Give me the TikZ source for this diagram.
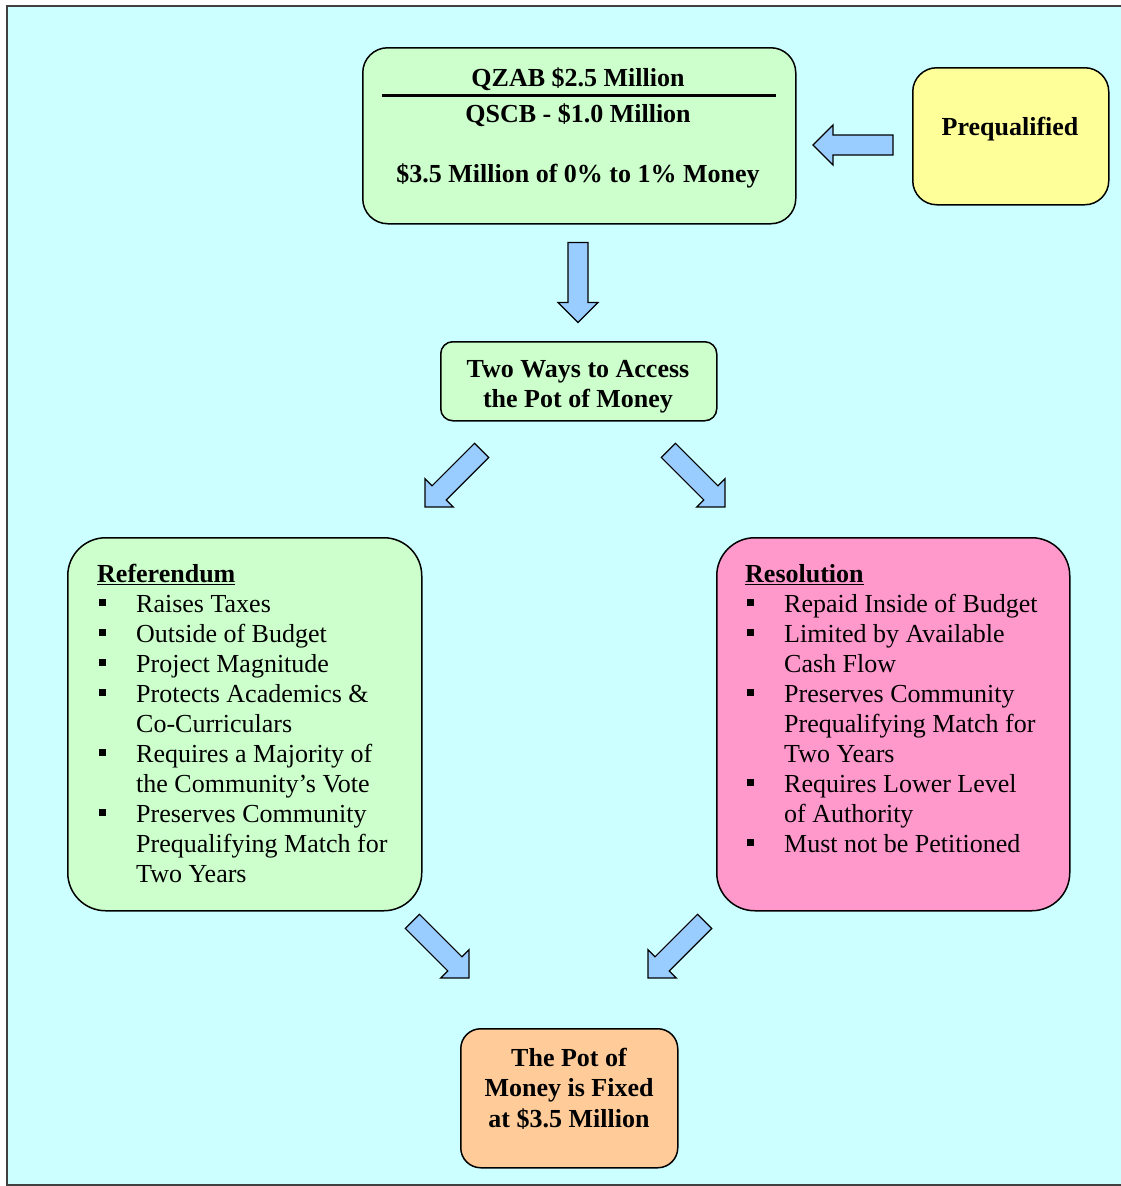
\documentclass[tikz,border=0pt]{standalone}
\usepackage{fontspec}
\setmainfont{Liberation Serif}
\definecolor{bgcyan}{HTML}{CCFFFF}
\definecolor{boxgreen}{HTML}{CCFFCC}
\definecolor{boxyellow}{HTML}{FFFF99}
\definecolor{boxpink}{HTML}{FF99CC}
\definecolor{boxpeach}{HTML}{FFCC99}
\definecolor{arrowblue}{HTML}{99CCFF}
\newcommand{\blockarr}[2]{%
  \draw[blockarrow, shift={(#1)}, rotate=#2]
    (0,-10) -- (60,-10) -- (60,-20) -- (80,0) -- (60,20) -- (60,10) -- (0,10) -- cycle;}
\begin{document}
\begin{tikzpicture}[x=1pt,y=-1pt,
  box/.style={draw=black, line width=1.5pt, inner sep=0pt, anchor=north west},
  txt/.style={inner sep=0pt, font=\fontsize{26}{30}\selectfont},
  btxt/.style={inner sep=0pt, font=\fontsize{26}{30}\selectfont\bfseries},
  bul/.style={fill=black, inner sep=0pt, minimum size=7pt},
  blockarrow/.style={draw=black, line width=1.2pt, fill=arrowblue, line join=miter}]
\useasboundingbox (0,0) rectangle (1120,1186);
\fill[bgcyan] (7,6) rectangle (1140,1185);
\draw[black!75, line width=2pt] (1140,6) -- (7,6) -- (7,1185) -- (1140,1185);

% boxes
\node[box, fill=boxgreen, rounded corners=25pt, minimum width=433pt, minimum height=176pt] (top) at (362,47) {};
\node[box, fill=boxyellow, rounded corners=24pt, minimum width=196pt, minimum height=137pt] (preq) at (912,67) {};
\node[box, fill=boxgreen, rounded corners=12pt, minimum width=276pt, minimum height=79pt] (mid) at (440,341) {};
\node[box, fill=boxgreen, rounded corners=38pt, minimum width=354pt, minimum height=373pt] (ref) at (67,537) {};
\node[box, fill=boxpink, rounded corners=38pt, minimum width=353pt, minimum height=373pt] (res) at (716,537) {};
\node[box, fill=boxpeach, rounded corners=20pt, minimum width=217pt, minimum height=139pt] (pot) at (460,1028) {};

% top box text
\node[btxt, anchor=base] (top-1) at (578,86) {QZAB \$2.5 Million};
\draw[line width=3pt] (382,95) -- (776,95);
\node[btxt, anchor=base] (top-2) at (578,122) {QSCB - \$1.0 Million};
\node[btxt, anchor=base] (top-3) at (578,182) {\$3.5 Million of 0\% to 1\% Money};

\node[btxt, anchor=base] (preq-t) at (1010,135) {Prequalified};

\node[btxt, anchor=base] (mid-1) at (578,377) {Two Ways to Access};
\node[btxt, anchor=base] (mid-2) at (578,407) {the Pot of Money};

\node[btxt, anchor=base] (pot-1) at (569,1066) {The Pot of};
\node[btxt, anchor=base] (pot-2) at (569,1096) {Money is Fixed};
\node[btxt, anchor=base] (pot-3) at (569,1127) {at \$3.5 Million};

% referendum
\node[btxt, anchor=base west] (ref-h) at (97,582) {\underline{Referendum}};
\foreach \b/\t [count=\i] in {1/Raises Taxes, 1/Outside of Budget, 1/Project Magnitude,
  1/Protects Academics \&, 0/Co-Curriculars, 1/Requires a Majority of,
  0/the Community’s Vote, 1/Preserves Community, 0/Prequalifying Match for, 0/Two Years}{
  \node[txt, anchor=base west] (ref-\i) at (136,{612+30*(\i-1)}) {\t};
  \ifnum\b=1 \node[bul] (refb-\i) at (102,{602+30*(\i-1)}) {};\fi
}

% resolution
\node[btxt, anchor=base west] (res-h) at (745,582) {\underline{Resolution}};
\foreach \b/\t [count=\i] in {1/Repaid Inside of Budget, 1/Limited by Available, 0/Cash Flow,
  1/Preserves Community, 0/Prequalifying Match for, 0/Two Years,
  1/Requires Lower Level, 0/of Authority, 1/Must not be Petitioned}{
  \node[txt, anchor=base west] (res-\i) at (784,{612+30*(\i-1)}) {\t};
  \ifnum\b=1 \node[bul] (resb-\i) at (750.5,{602+30*(\i-1)}) {};\fi
}

% block arrows (tail point, direction)
\blockarr{893,145}{180}
\blockarr{578,242.5}{-90}
\blockarr{481.6,450.4}{-135}
\blockarr{668.4,450.4}{-45}
\blockarr{412.4,921.4}{-45}
\blockarr{704.6,921.4}{-135}
\end{tikzpicture}
\end{document}
